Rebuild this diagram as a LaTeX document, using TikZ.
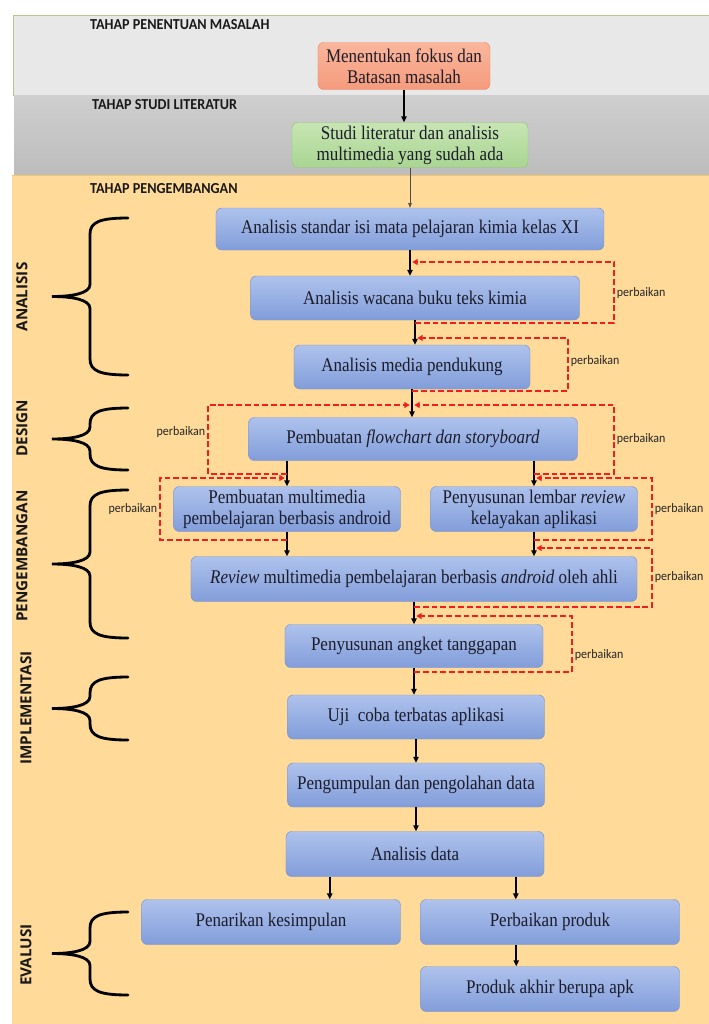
\documentclass[tikz,border=0pt]{standalone}
\usepackage{fontspec}
\setmainfont{Liberation Serif}[FakeStretch=0.88]
\newfontfamily\headfont{Carlito}[FakeStretch=0.93]
\newfontfamily\sidefont{Open Sans}
\usetikzlibrary{arrows.meta,calc}
\definecolor{bgorange}{HTML}{FFDA99}
\definecolor{orangeedge}{HTML}{F5C464}
\definecolor{topgray}{HTML}{E8E8E8}
\definecolor{bandgreen}{HTML}{AFCB86}
\definecolor{boxtop}{HTML}{AEC2EC}
\definecolor{boxbot}{HTML}{819DDA}
\definecolor{boxedge}{HTML}{7893CC}
\definecolor{salmontop}{HTML}{FBB69C}
\definecolor{salmonbot}{HTML}{F49B7C}
\definecolor{salmonedge}{HTML}{EE8A66}
\definecolor{greentop}{HTML}{C7E5B3}
\definecolor{greenbot}{HTML}{A9D592}
\definecolor{greenedge}{HTML}{96C47A}
\definecolor{fixred}{HTML}{F01E1E}
\definecolor{textdark}{HTML}{1C1C2A}

\tikzset{
  stagebox/.style={draw=boxedge, rounded corners=5pt, top color=boxtop, bottom color=boxbot,
    align=center, font=\fontsize{16.5}{18}\selectfont, text=textdark, inner sep=2pt},
  flowarrow/.style={-{Triangle[length=5pt,width=4.5pt]}, line width=1.5pt, black},
  fixloop/.style={fixred, dash pattern=on 5pt off 2.5pt, line width=1.9pt,
    -{Triangle[length=4.5pt,width=5pt]}, shorten >=2pt},
  fixlabel/.style={font=\headfont\fontsize{11}{12}\selectfont, text=black!85, inner sep=1.5pt},
  phase/.style={font=\headfont\bfseries\fontsize{13}{15}\selectfont, anchor=west, text=black!90},
  sidelabel/.style={font=\sidefont\bfseries\fontsize{13}{15}\selectfont, rotate=90, text=black!90},
  bracket/.style={line width=2.4pt, line cap=round}
}

% curly bracket on the left, from top to bottom
\newcommand{\phasebrace}[2]{%
  \pgfmathsetmacro{\bmid}{(#1+#2)/2}
  \draw[bracket] (128,#1) .. controls (100,#1) and (90,#1+4) .. (90,#1+16)
    -- (90,\bmid-12) .. controls (90,\bmid-3) and (72,\bmid) .. (52,\bmid)
    .. controls (72,\bmid) and (90,\bmid+3) .. (90,\bmid+12)
    -- (90,#2-16) .. controls (90,#2-4) and (100,#2) .. (128,#2);
}

\begin{document}
\begin{tikzpicture}[x=0.03cm, y=-0.03cm]
	\fill[white] (0,0) rectangle (709,1024);
	\useasboundingbox (0,0) rectangle (709,1024);

	% bands
	\draw[fill=topgray, draw=bandgreen, line width=0.6pt] (13,15) rectangle (709,95);
	\shade[top color=gray!38, bottom color=gray!52] (14,95) rectangle (709,175);
	\fill[bgorange] (12,175) rectangle (709,1024);
	\draw[orangeedge, line width=0.8pt] (12,175) -- (709,175);

	\node[phase] (hMasalah) at (86,25) {TAHAP PENENTUAN MASALAH};
	\node[phase] (hLiteratur) at (88,105) {TAHAP STUDI LITERATUR};
	\node[phase] (hKembang) at (86,189) {TAHAP PENGEMBANGAN};

	% stage boxes
	\node[stagebox, draw=salmonedge, top color=salmontop, bottom color=salmonbot,
		minimum width=5.16cm, minimum height=1.41cm] (masalah) at (404,66) {Menentukan fokus dan\\Batasan masalah};
	\node[stagebox, draw=greenedge, top color=greentop, bottom color=greenbot,
		minimum width=7.08cm, minimum height=1.35cm] (studi) at (410,145) {Studi literatur dan analisis\\multimedia yang sudah ada};
	\node[stagebox, minimum width=11.64cm, minimum height=1.26cm] (standar) at (410,229) {Analisis standar isi mata pelajaran kimia kelas XI};
	\node[stagebox, minimum width=9.87cm, minimum height=1.32cm] (wacana) at (415,298) {Analisis wacana buku teks kimia};
	\node[stagebox, minimum width=7.08cm, minimum height=1.32cm] (media) at (412,367) {Analisis media pendukung};
	\node[stagebox, minimum width=9.87cm, minimum height=1.29cm] (flow) at (413,439) {Pembuatan \textit{flowchart dan storyboard}};
	\node[stagebox, minimum width=6.81cm, minimum height=1.35cm] (multi) at (287,509) {Pembuatan multimedia\\pembelajaran berbasis android};
	\node[stagebox, minimum width=6.21cm, minimum height=1.35cm] (lembar) at (534,509) {Penyusunan lembar \textit{review}\\kelayakan aplikasi};
	\node[stagebox, minimum width=13.38cm, minimum height=1.35cm] (review) at (414,579) {\textit{Review} multimedia pembelajaran berbasis \textit{android} oleh ahli};
	\node[stagebox, minimum width=7.74cm, minimum height=1.29cm] (angket) at (414,646) {Penyusunan angket tanggapan};
	\node[stagebox, minimum width=7.71cm, minimum height=1.32cm] (uji) at (416,717) {Uji\ \ coba terbatas aplikasi};
	\node[stagebox, minimum width=7.71cm, minimum height=1.32cm] (kumpul) at (416,785) {Pengumpulan dan pengolahan data};
	\node[stagebox, minimum width=7.74cm, minimum height=1.35cm] (data) at (415,854) {Analisis data};
	\node[stagebox, minimum width=7.77cm, minimum height=1.35cm] (tarik) at (271,922) {Penarikan kesimpulan};
	\node[stagebox, minimum width=7.77cm, minimum height=1.35cm] (produk) at (550,922) {Perbaikan produk};
	\node[stagebox, minimum width=7.77cm, minimum height=1.35cm] (akhir) at (550,989) {Produk akhir berupa apk};

	% main arrows
	\draw[flowarrow, line width=1.8pt] (masalah.south) -- (masalah.south |- studi.north);
	\draw[-{Triangle[length=4pt,width=3pt]}, gray!60!black, line width=0.5pt] (studi.south) -- (studi.south |- standar.north);
	\draw[flowarrow] (standar.south) -- (standar.south |- wacana.north);
	\draw[flowarrow] (wacana.south) -- (wacana.south |- media.north);
	\draw[flowarrow] (media.south) -- (media.south |- flow.north);
	\draw[flowarrow] (flow.south -| multi.north) -- (multi.north);
	\draw[flowarrow] (flow.south -| lembar.north) -- (lembar.north);
	\draw[flowarrow] (multi.south) -- (multi.south |- review.north);
	\draw[flowarrow] (lembar.south) -- (lembar.south |- review.north);
	\draw[flowarrow] (review.south) -- (review.south |- angket.north);
	\draw[flowarrow] (angket.south) -- (angket.south |- uji.north);
	\draw[flowarrow] (uji.south) -- (uji.south |- kumpul.north);
	\draw[flowarrow] (kumpul.south) -- (kumpul.south |- data.north);
	\coordinate (d1) at ($(data.south west)!0.17!(data.south east)$);
	\coordinate (d2) at ($(data.south west)!0.89!(data.south east)$);
	\coordinate (d3) at ($(produk.south west)!0.37!(produk.south east)$);
	\draw[flowarrow] (d1) -- (d1 |- tarik.north);
	\draw[flowarrow] (d2) -- (d2 |- produk.north);
	\draw[flowarrow] (d3) -- (d3 |- akhir.north);

	% perbaikan loops
	\coordinate (c1) at (614,262);
	\coordinate (c2) at (568,338);
	\coordinate (c3) at (208,405);
	\coordinate (c4) at (614,405);
	\coordinate (c5) at (160,478);
	\coordinate (c6) at (652,478);
	\coordinate (c7) at (652,548);
	\coordinate (c8) at (572,616);
	\draw[fixloop] ($(wacana.south)+(0,3)$) -| node[fixlabel, pos=0.75, right] {perbaikan} (c1) -- (c1 -| standar.south);
	\draw[fixloop] ($(media.south)+(0,2)$) -| node[fixlabel, pos=0.78, right] {perbaikan} (c2) -- (c2 -| wacana.south);
	\draw[fixloop] ($(flow.south -| multi.north)+(0,13)$) -| node[fixlabel, pos=0.8, left] {perbaikan} (c3) -- (c3 -| media.south);
	\draw[fixloop] ($(flow.south -| lembar.north)+(0,13)$) -| node[fixlabel, pos=0.75, right] {perbaikan} (c4) -- (c4 -| media.south);
	\draw[fixloop] ($(multi.south)+(0,8)$) -| node[fixlabel, pos=0.75, left] {perbaikan} (c5) -- (c5 -| multi.north);
	\draw[fixloop] ($(lembar.south)+(0,8)$) -| node[fixlabel, pos=0.75, right] {perbaikan} (c6) -- (c6 -| lembar.north);
	\draw[fixloop] ($(review.south)+(0,5)$) -| node[fixlabel, pos=0.75, right] {perbaikan} (c7) -- (c7 -| lembar.south);
	\draw[fixloop] ($(angket.south)+(0,4)$) -| node[fixlabel, pos=0.65, right] {perbaikan} (c8) -- (c8 -| review.south);

	% phase brackets and names
	\phasebrace{218}{375}
	\phasebrace{408}{470}
	\phasebrace{490}{638}
	\phasebrace{677}{740}
	\phasebrace{912}{995}
	\node[sidelabel] (sAnalisis) at (22,297) {ANALISIS};
	\node[sidelabel] (sDesign) at (22,428) {DESIGN};
	\node[sidelabel] (sKembang) at (22,556) {PENGEMBANGAN};
	\node[sidelabel] (sImplementasi) at (26,708) {IMPLEMENTASI};
	\node[sidelabel] (sEvaluasi) at (26,955) {EVALUSI};
\end{tikzpicture}
\end{document}
